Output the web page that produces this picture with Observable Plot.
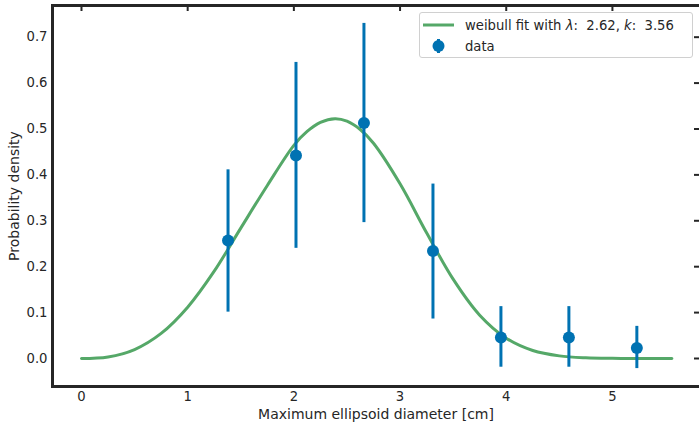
<!DOCTYPE html>
<html>
<head>
<meta charset="utf-8">
<script src="https://cdn.jsdelivr.net/npm/d3@7"></script>
<script src="https://cdn.jsdelivr.net/npm/@observablehq/plot@0.6"></script>
<style>
  html, body { margin: 0; padding: 0; background: #fff; }
  #wrap { position: relative; width: 699px; height: 430px; font-family: "DejaVu Sans", sans-serif; }
  #legend { position: absolute; left: 419px; top: 12px; width: 272px; height: 44px;
    border: 1px solid #d0d0d0; border-radius: 3px; background: rgba(255,255,255,0.85);
    font-size: 13.2px; color: #262626; }
  .row { position: absolute; left: 0; height: 20px; display: flex; align-items: center; white-space: nowrap; }
  .row svg { margin-left: 3px; margin-right: 11px; }
</style>
</head>
<body>
<div id="wrap"></div>
<script>
// Data points (bin centers, density, error bar bounds)
const binX = [1.38, 2.02, 2.66, 3.31, 3.95, 4.59, 5.23];
const density = [0.257, 0.442, 0.513, 0.234, 0.046, 0.046, 0.023];
const errLow = [0.101, 0.240, 0.296, 0.086, -0.019, -0.019, -0.022];
const errHigh = [0.411, 0.645, 0.730, 0.380, 0.113, 0.113, 0.070];

// Weibull fit curve (lambda 2.62, k 3.56)
const curveX = [0, 0.25, 0.5, 0.75, 1.0, 1.25, 1.5, 1.75, 2.0, 2.125, 2.25, 2.388, 2.5, 2.625, 2.75, 3.0, 3.25, 3.5, 3.75, 4.0, 4.25, 4.5, 4.75, 5.0, 5.25, 5.56];
const curveY = [0, 0.0033, 0.0195, 0.0546, 0.1118, 0.1902, 0.2841, 0.3770, 0.4644, 0.4946, 0.5144, 0.5223, 0.5170, 0.4989, 0.4688, 0.3805, 0.2738, 0.1728, 0.0944, 0.0442, 0.0174, 0.0057, 0.0015, 0.0003, 0.0001, 0];

const xTicks = [0, 1, 2, 3, 4, 5];
const yTicks = [0.0, 0.1, 0.2, 0.3, 0.4, 0.5, 0.6, 0.7];

const pts = binX.map((x, i) => ({x, y: density[i], lo: errLow[i], hi: errHigh[i]}));
const curve = curveX.map((x, i) => ({x, y: curveY[i]}));

const W = 699, H = 430, mL = 52, mR = 0, mT = 5, mB = 44;
const ink = "#262626";

const plot = Plot.plot({
  width: W, height: H,
  marginLeft: mL, marginRight: mR, marginTop: mT, marginBottom: mB,
  style: {fontFamily: "DejaVu Sans, sans-serif", fontSize: "14px", color: ink, background: "white"},
  x: {domain: [-0.273, 5.82]},
  y: {domain: [-0.061, 0.769]},
  marks: [
    Plot.line(curve, {x: "x", y: "y", stroke: "#55a868", strokeWidth: 3, curve: "catmull-rom"}),
    Plot.ruleX(pts, {x: "x", y1: "lo", y2: "hi", stroke: "#0072b2", strokeWidth: 3}),
    Plot.dot(pts, {x: "x", y: "y", r: 6, fill: "#0072b2"}),
    // inward ticks on top and right
    Plot.tickX(xTicks, {x: d => d, stroke: ink, strokeWidth: 2, insetBottom: H - mT - mB - 6}),
    Plot.tickY(yTicks, {y: d => d, stroke: ink, strokeWidth: 2, insetLeft: W - mL - mR - 5}),
    Plot.axisX(xTicks, {tickSize: 0, tickPadding: 5, tickFormat: d => String(d), fontSize: 13.2,
      label: null}),
    Plot.axisX({ticks: [], tickSize: 0, fontSize: 14,
      label: "Maximum ellipsoid diameter [cm]", labelAnchor: "center", labelArrow: "none", labelOffset: 32}),
    Plot.axisY(yTicks, {tickSize: 0, tickPadding: 5, tickFormat: d => d.toFixed(1), fontSize: 13.2,
      label: null}),
    Plot.axisY({ticks: [], tickSize: 0, fontSize: 14,
      label: "Probability density", labelAnchor: "center", labelArrow: "none", labelOffset: 43}),
    Plot.frame({anchor: "left", stroke: ink, strokeWidth: 3}),
    Plot.frame({anchor: "bottom", stroke: ink, strokeWidth: 3}),
    Plot.frame({anchor: "top", stroke: ink, strokeWidth: 3})
  ]
});

const wrap = document.getElementById("wrap");
wrap.appendChild(plot);

const legend = document.createElement("div");
legend.id = "legend";
legend.innerHTML = `
  <div class="row" style="top:2px">
    <svg width="31" height="10"><line x1="0" y1="5" x2="31" y2="5" stroke="#55a868" stroke-width="3"/></svg>
    <span>weibull fit with <i>λ</i>:&nbsp; 2.62, <i>k</i>:&nbsp; 3.56</span>
  </div>
  <div class="row" style="top:23px">
    <svg width="31" height="16"><line x1="15.5" y1="1" x2="15.5" y2="15" stroke="#0072b2" stroke-width="3"/><circle cx="15.5" cy="8" r="6" fill="#0072b2"/></svg>
    <span>data</span>
  </div>`;
wrap.appendChild(legend);
</script>
</body>
</html>
